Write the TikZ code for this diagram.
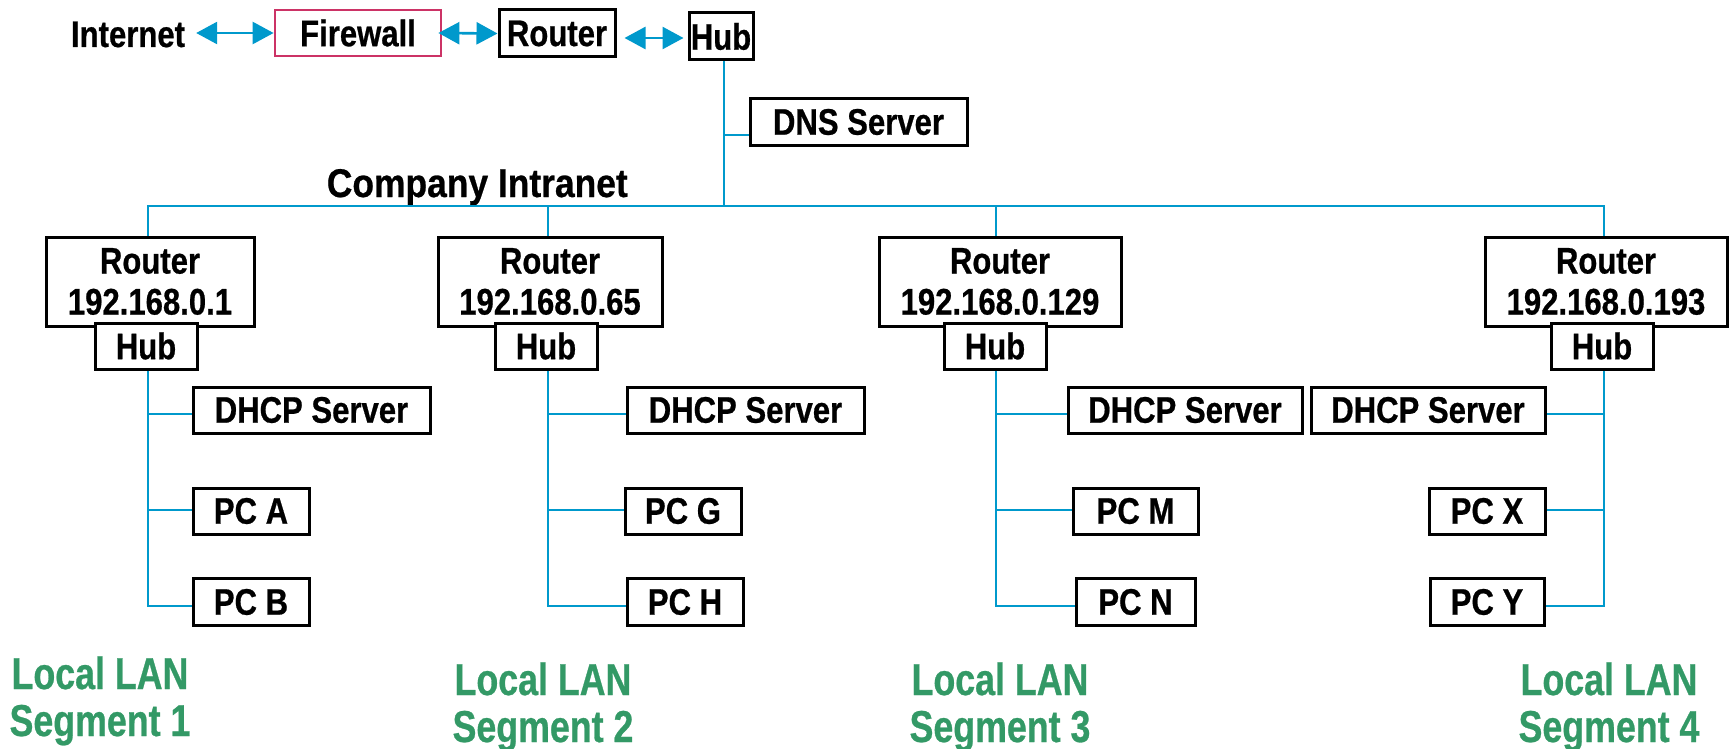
\documentclass[tikz,border=0pt]{standalone}
\usepackage{fontspec}
\setmainfont{Liberation Sans}
\newfontfamily\boxfont{Liberation Sans}[FakeStretch=0.84,FakeBold=0.6]
\newfontfamily\titlefont{Liberation Sans}[FakeStretch=0.885,FakeBold=0.6]
\newfontfamily\segfont{Liberation Sans}[FakeStretch=0.80,FakeBold=0.6]
\usetikzlibrary{arrows.meta,calc}
\definecolor{netblue}{RGB}{0,153,204}
\definecolor{fwred}{RGB}{204,51,102}
\definecolor{seggreen}{RGB}{51,153,102}
\begin{document}
\begin{tikzpicture}[x=1pt,y=-1pt,
  boxtxt/.style={font=\boxfont\bfseries\fontsize{37}{41}\selectfont},
  box/.style={boxtxt,draw=black,line width=3pt,fill=white,inner sep=0pt,align=center},
  fwbox/.style={box,draw=fwred,line width=2.8pt},
  plain/.style={boxtxt,inner sep=0pt},
  wire/.style={draw=netblue,line width=2.6pt},
  biarrow/.style={draw=netblue,line width=2.6pt,{Triangle[length=21pt,width=22pt]}-{Triangle[length=21pt,width=22pt]}},
  seglabel/.style={font=\segfont\bfseries\fontsize{44.7}{47}\selectfont,text=seggreen,align=center,inner sep=0pt},
  title/.style={font=\titlefont\bfseries\fontsize{40}{44}\selectfont,inner sep=0pt}
]
\useasboundingbox[fill=white] (0,0) rectangle (1731,749);

% top row
\node[plain,anchor=base,inner xsep=11pt] (inet) at (128,47) {Internet};
\node[fwbox,minimum width=166pt,minimum height=46pt] (fw) at (358,33) {Firewall};
\node[box,minimum width=116pt,minimum height=47pt] (rt0) at (557,33.5) {Router};
\node[box,minimum width=64pt,minimum height=47pt] (hub0) at (721,36.5) {Hub};
\node[box,minimum width=217pt,minimum height=46pt] (dns) at (858.5,122) {DNS Server};
\node[title,anchor=base east] (intra) at (628,197) {Company Intranet};

\draw[biarrow] (inet.east |- fw.west) -- (fw.west);
\draw[biarrow] ([xshift=-4pt]fw.east) -- (rt0.west);
\draw[biarrow] ([xshift=8pt,yshift=-4.5pt]rt0.east) -- ([xshift=-4pt,yshift=-1.5pt]hub0.west);

% routers
\node[box,minimum width=208pt,minimum height=89pt] (r1) at (150,281.5) {Router\\192.168.0.1};
\node[box,minimum width=224pt,minimum height=89pt] (r2) at (550,281.5) {Router\\192.168.0.65};
\node[box,minimum width=242pt,minimum height=89pt] (r3) at (1000,281.5) {Router\\192.168.0.129};
\node[box,minimum width=242pt,minimum height=89pt] (r4) at (1606,281.5) {Router\\192.168.0.193};
% hubs
\node[box,minimum width=102pt,minimum height=46pt] (h1) at (146,346) {Hub};
\node[box,minimum width=102pt,minimum height=46pt] (h2) at (546,346) {Hub};
\node[box,minimum width=102pt,minimum height=46pt] (h3) at (995,346) {Hub};
\node[box,minimum width=102pt,minimum height=46pt] (h4) at (1602,346) {Hub};
% DHCP servers
\node[box,minimum width=237pt,minimum height=46pt] (d1) at (311.5,410) {DHCP Server};
\node[box,minimum width=237pt,minimum height=46pt] (d2) at (745.5,410) {DHCP Server};
\node[box,minimum width=234pt,minimum height=46pt] (d3) at (1185,410) {DHCP Server};
\node[box,minimum width=234pt,minimum height=46pt] (d4) at (1428,410) {DHCP Server};
% PCs
\node[box,minimum width=116pt,minimum height=46pt] (pa) at (251,511) {PC A};
\node[box,minimum width=116pt,minimum height=46pt] (pg) at (683,511) {PC G};
\node[box,minimum width=125pt,minimum height=46pt] (pm) at (1135.5,511) {PC M};
\node[box,minimum width=116pt,minimum height=46pt] (px) at (1487,511) {PC X};
\node[box,minimum width=116pt,minimum height=47pt] (pb) at (251,602) {PC B};
\node[box,minimum width=116pt,minimum height=47pt] (ph) at (685,602) {PC H};
\node[box,minimum width=119pt,minimum height=47pt] (pn) at (1135.5,602) {PC N};
\node[box,minimum width=114pt,minimum height=47pt] (py) at (1487,602) {PC Y};

% segment labels (base = baseline of last line)
\node[seglabel,anchor=base] (s1) at (100,736) {Local LAN\\Segment 1};
\node[seglabel,anchor=base] (s2) at (543,742) {Local LAN\\Segment 2};
\node[seglabel,anchor=base] (s3) at (1000,742) {Local LAN\\Segment 3};
\node[seglabel,anchor=base] (s4) at (1609,742) {Local LAN\\Segment 4};

% intranet bus
\coordinate (j1) at (148,206);
\coordinate (j2) at (548,206);
\coordinate (j3) at (996,206);
\coordinate (j4) at (1604,206);
\draw[wire] (j1 |- r1.north) -- (j1) -- (j4) -- (j4 |- r4.north);
\draw[wire] (j2) -- (j2 |- r2.north);
\draw[wire] (j3) -- (j3 |- r3.north);
\draw[wire] ([xshift=3pt]hub0.south) -- ([xshift=3pt]hub0.south |- j1);
\coordinate (dj) at (724,135);
\draw[wire] (dj) -- (dj -| dns.west);

% segment 1
\coordinate (c1) at (148,606);
\draw[wire] (j1 |- h1.south) -- (c1) -- (c1 -| pb.west);
\draw[wire] (148,414) -- (d1.west |- 148,414);
\draw[wire] (148,510) -- (pa.west |- 148,510);
% segment 2
\coordinate (c2) at (548,606);
\draw[wire] (j2 |- h2.south) -- (c2) -- (c2 -| ph.west);
\draw[wire] (548,414) -- (d2.west |- 548,414);
\draw[wire] (548,510) -- (pg.west |- 548,510);
% segment 3
\coordinate (c3) at (996,606);
\draw[wire] (j3 |- h3.south) -- (c3) -- (c3 -| pn.west);
\draw[wire] (996,414) -- (d3.west |- 996,414);
\draw[wire] (996,510) -- (pm.west |- 996,510);
% segment 4
\coordinate (c4) at (1604,606);
\draw[wire] (j4 |- h4.south) -- (c4) -- (c4 -| py.east);
\draw[wire] (1604,414) -- (d4.east |- 1604,414);
\draw[wire] (1604,510) -- (px.east |- 1604,510);
\end{tikzpicture}
\end{document}
